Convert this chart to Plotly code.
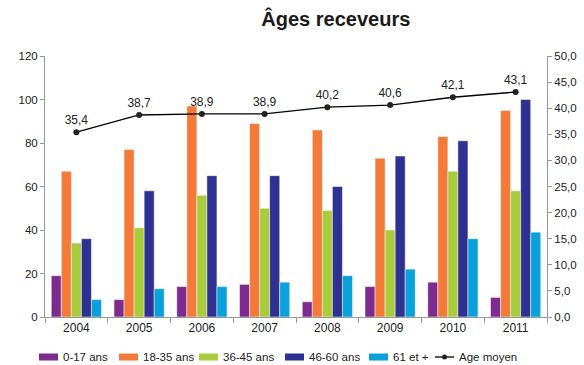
import plotly.graph_objects as go

years = ["2004", "2005", "2006", "2007", "2008", "2009", "2010", "2011"]
age_0_17 = [19, 8, 14, 15, 7, 14, 16, 9]
age_18_35 = [67, 77, 97, 89, 86, 73, 83, 95]
age_36_45 = [34, 41, 56, 50, 49, 40, 67, 58]
age_46_60 = [36, 58, 65, 65, 60, 74, 81, 100]
age_61_plus = [8, 13, 14, 16, 19, 22, 36, 39]
age_moyen = [35.4, 38.7, 38.9, 38.9, 40.2, 40.6, 42.1, 43.1]

series = [
    ("0-17 ans", age_0_17, "#7E2B8F"),
    ("18-35 ans", age_18_35, "#F47A3A"),
    ("36-45 ans", age_36_45, "#A8CC3C"),
    ("46-60 ans", age_46_60, "#2E3192"),
    ("61 et +", age_61_plus, "#0AA0DC"),
]
line_name = "Age moyen"

font_family = "Liberation Sans, Arial, sans-serif"

# figure geometry (pixels)
W, H = 584, 365
ML, MR, MT, MB = 45, 37, 56, 48
PW, PH = W - ML - MR, H - MT - MB

fig = go.Figure()
for name, vals, color in series:
    fig.add_trace(go.Bar(
        x=years, y=vals, name=name, showlegend=False,
        marker=dict(color=color, line=dict(color="rgba(255,255,255,0.6)", width=0.8)),
    ))

fig.add_trace(go.Scatter(
    x=years, y=age_moyen, name=line_name, yaxis="y2", showlegend=False,
    mode="lines+markers+text",
    line=dict(color="black", width=1.3),
    marker=dict(symbol="circle", size=6, color="#222"),
    text=[f"{v:.1f}".replace(".", ",") for v in age_moyen],
    textposition="top center",
    textfont=dict(size=12, color="#222"),
))


def px_x(px):
    return (px - ML) / PW


def px_y(py):
    return (H - MB - py) / PH


# legend row drawn below the axis: swatch left edges in pixels
legend_y = 357
swatch_left = [39, 119, 199, 285, 369]
swatch_w, swatch_h = 19, 7
shapes, annotations = [], []
for (name, _, color), x0 in zip(series, swatch_left):
    shapes.append(dict(type="rect", xref="paper", yref="paper",
                       x0=px_x(x0), x1=px_x(x0 + swatch_w),
                       y0=px_y(legend_y + swatch_h / 2), y1=px_y(legend_y - swatch_h / 2),
                       fillcolor=color, line=dict(width=0)))
    annotations.append(dict(text=name, xref="paper", yref="paper",
                            x=px_x(x0 + swatch_w + 3), y=px_y(legend_y),
                            xanchor="left", yanchor="middle", showarrow=False,
                            font=dict(size=11.5, color="#222")))

line_left = 435
shapes.append(dict(type="line", xref="paper", yref="paper",
                   x0=px_x(line_left), x1=px_x(line_left + 19),
                   y0=px_y(legend_y), y1=px_y(legend_y),
                   line=dict(color="black", width=1.3)))
shapes.append(dict(type="circle", xref="paper", yref="paper",
                   x0=px_x(line_left + 7), x1=px_x(line_left + 12),
                   y0=px_y(legend_y + 2.5), y1=px_y(legend_y - 2.5),
                   fillcolor="#222", line=dict(width=0)))
annotations.append(dict(text=line_name, xref="paper", yref="paper",
                        x=px_x(line_left + 22), y=px_y(legend_y),
                        xanchor="left", yanchor="middle", showarrow=False,
                        font=dict(size=11.5, color="#222")))

fig.update_layout(
    width=W, height=H,
    margin=dict(l=ML, r=MR, t=MT, b=MB, autoexpand=False),
    paper_bgcolor="white", plot_bgcolor="white",
    font=dict(family=font_family, size=12, color="#222"),
    separators=", ",
    title=dict(text="<b>Âges receveurs</b>", x=0.575, xanchor="center",
               y=0.948, yanchor="middle",
               font=dict(size=20, color="#1a1a1a", family=font_family)),
    barmode="group", bargap=0.2, bargroupgap=0,
    xaxis=dict(showline=True, linecolor="#999", ticks="outside", tickson="boundaries",
               ticklen=5, tickcolor="#999", showgrid=False, tickfont=dict(size=12)),
    yaxis=dict(range=[0, 120], dtick=20, showline=True, linecolor="#999",
               ticks="outside", ticklen=4, tickcolor="#999", showgrid=False,
               zeroline=False, tickfont=dict(size=11.5)),
    yaxis2=dict(range=[0, 50], dtick=5, overlaying="y", side="right",
                tickformat=".1f", showline=True, linecolor="#999",
                ticks="outside", ticklen=4, tickcolor="#999", showgrid=False,
                zeroline=False, tickfont=dict(size=11.5)),
    shapes=shapes,
    annotations=annotations,
    showlegend=False,
)

fig.write_html("out.html")
